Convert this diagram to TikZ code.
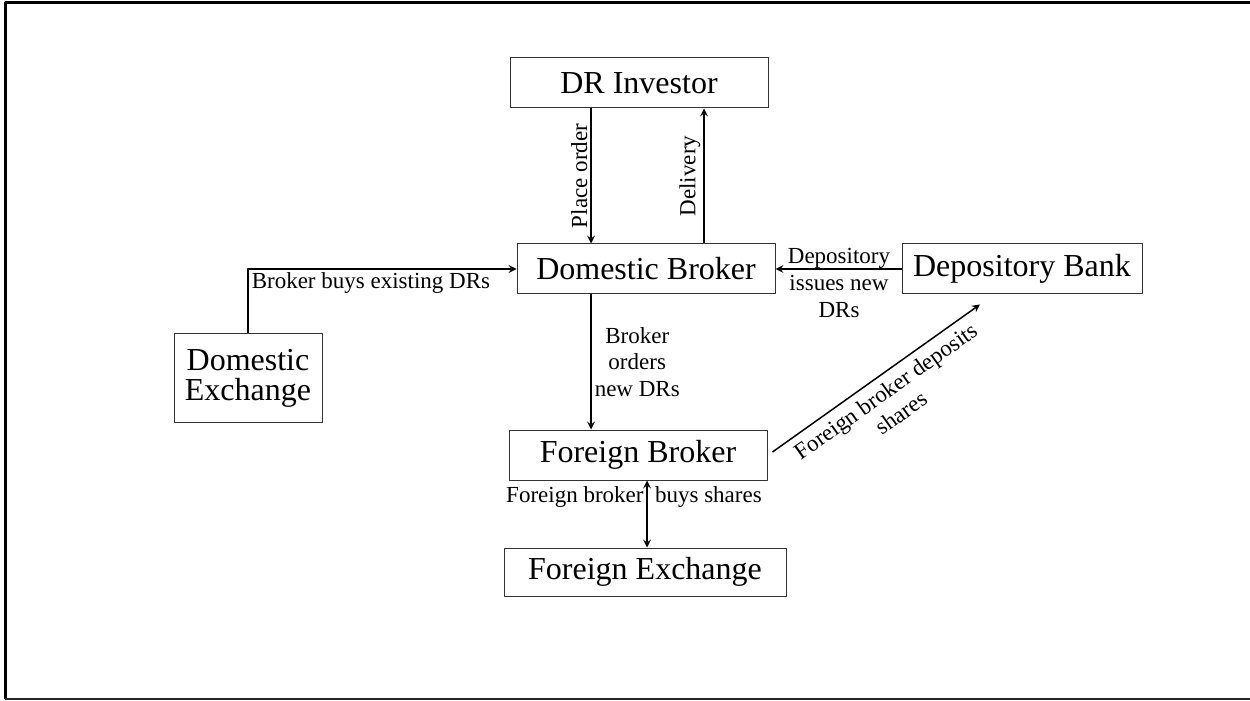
\documentclass[tikz,border=0pt]{standalone}
\usepackage{fontspec}
\setmainfont{Liberation Serif}
\newcommand{\boxfont}{\fontsize{16}{15}\selectfont}
\newcommand{\lblfont}{\fontsize{11.5}{13.3}\selectfont}
\tikzset{
  party/.style={draw=black!80, line width=0.5pt, inner sep=0pt, font=\boxfont,
    minimum width=129pt, minimum height=25pt, align=center},
  flow/.style={->, line width=0.75pt},
  lbl/.style={font=\lblfont, inner sep=1.5pt, align=center}
}
\begin{document}
\begin{tikzpicture}[x=0.5pt, y=-0.5pt, line join=round, >=stealth]
\useasboundingbox (0,0) rectangle (1250,701);
% frame
\draw[line width=1.5pt] (1250,2.5) -- (5,2.5) -- (5,699);
\draw[line width=1pt, black!85] (5,699) -- (1250,699);
% parties
\node[party] (inv) at (639,83) {DR Investor};
\node[party] (dbrk) at (646,269) {Domestic Broker};
\node[party, minimum width=120pt] (dbank) at (1022,269) {Depository Bank};
\node[party, minimum width=74pt, minimum height=44pt] (dexch) at (248,378) {Domestic\\Exchange};
\node[party] (fbrk) at (638,455) {Foreign Broker};
\node[party, minimum width=141pt, minimum height=24pt] (fexch) at (645,572) {Foreign Exchange};
% helper columns
\coordinate (pox) at (591,0);
\coordinate (dlx) at (704,0);
\coordinate (fbx) at (647,0);
% connectors
\draw[flow] (inv.south -| pox) -- (dbrk.north -| pox)
  node[lbl, midway, rotate=90, anchor=south] {Place order};
\draw[flow] (dbrk.north -| dlx) -- (inv.south -| dlx)
  node[lbl, midway, rotate=90, anchor=south] {Delivery};
\draw[flow] (dexch.north) |- (dbrk.west)
  node[lbl, pos=0.5, anchor=north west] {Broker buys existing DRs};
\draw[flow] (dbank.west) -- (dbrk.east);
\node[lbl] (issue) at (839,283) {Depository\\issues new\\DRs};
\draw[flow] (dbrk.south -| pox) -- (fbrk.north -| pox)
  node[lbl, midway, anchor=west] {Broker\\orders\\new DRs};
\draw[flow] ([shift={(2.5pt,1.5pt)}]fbrk.east) -- ([shift={(-21pt,-5pt)}]dbank.south)
  node[lbl, midway, sloped, below, inner sep=3.5pt] {Foreign broker deposits\\shares};
\draw[flow, <->] (fbrk.south -| fbx) -- (fexch.north -| fbx);
\node[lbl] (fbuy) at (634,497) {Foreign broker\ \ buys shares};
\end{tikzpicture}
\end{document}
